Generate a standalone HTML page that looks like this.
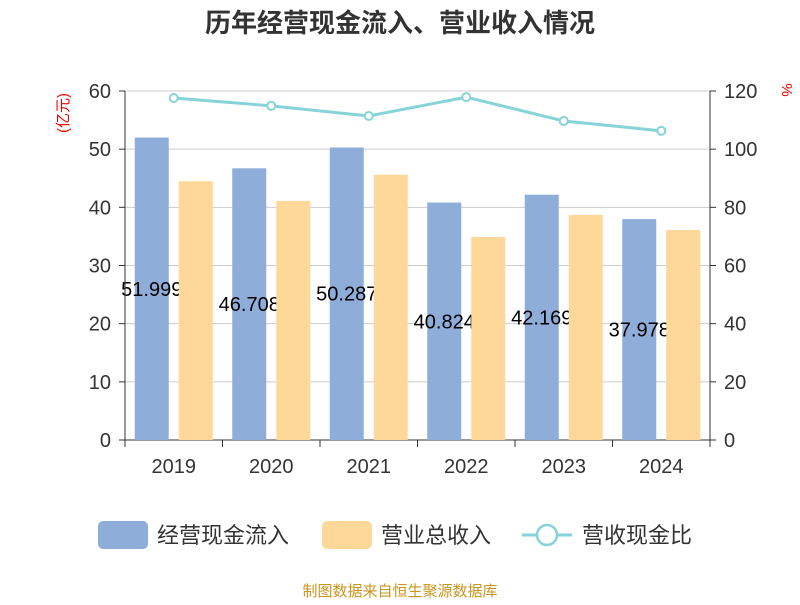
<!DOCTYPE html>
<html><head><meta charset="utf-8"><style>
body{margin:0;background:#fff;font-family:"Liberation Sans","Noto Sans CJK SC",sans-serif}
</style></head><body>
<svg id="c" width="800" height="600" xmlns="http://www.w3.org/2000/svg" font-family="Liberation Sans, Noto Sans CJK SC, sans-serif">
<text x="400" y="32" text-anchor="middle" font-size="26" font-weight="bold" fill="#333">历年经营现金流入、营业收入情况</text>
<text transform="translate(68,113) rotate(-90)" text-anchor="middle" font-size="15" fill="#e00">(亿元)</text>
<text transform="translate(782,90) rotate(90)" text-anchor="middle" font-size="15" fill="#e00">%</text>
<g id="grid"></g><g id="bars"></g><g id="labels"></g><g id="bars2"></g><g id="line"></g><g id="axes"></g>
<g>
<rect x="98" y="521" width="50" height="28" rx="5" fill="#8eadd9"/>
<text x="157" y="543" font-size="22" fill="#333">经营现金流入</text>
<rect x="322" y="521" width="50" height="28" rx="5" fill="#fed899"/>
<text x="381" y="543" font-size="22" fill="#333">营业总收入</text>
<line x1="522" y1="535" x2="572" y2="535" stroke="#86d4d8" stroke-width="3"/>
<circle cx="547" cy="535" r="10" fill="#fff" stroke="#86d4d8" stroke-width="2.5"/>
<text x="582" y="543" font-size="22" fill="#333">营收现金比</text>
</g>
<text x="400" y="596" text-anchor="middle" font-size="15" fill="#c8961e">制图数据来自恒生聚源数据库</text>
</svg>
<script>
const categories=["2019","2020","2021","2022","2023","2024"];
const cashInflow=[51.999,46.708,50.287,40.824,42.169,37.978];
const revenue=[44.5,41.1,45.6,34.9,38.7,36.1];
const ratio=[117.6,114.9,111.4,117.9,109.7,106.3];
const leftTicks=[0,10,20,30,40,50,60];
const rightTicks=[0,20,40,60,80,100,120];
const NS="http://www.w3.org/2000/svg";
const X0=125,X1=710,Y0=440,Y1=91;
const yL=v=>Y0-(v/60)*(Y0-Y1);
const yR=v=>Y0-(v/120)*(Y0-Y1);
const bw=(X1-X0)/categories.length;
const xc=i=>X0+bw*(i+0.5);
function mk(parent,tag,attrs){const e=document.createElementNS(NS,tag);for(const k in attrs)e.setAttribute(k,attrs[k]);document.getElementById(parent).appendChild(e);return e;}
leftTicks.forEach((t,i)=>{
 const g=mk('grid','line',{x1:X0,x2:X1,y1:yL(t),y2:yL(t),stroke:i==0?'#333':'#ccc','stroke-width':1});
 
 
 const a=mk('axes','line',{x1:X0-6,x2:X0,y1:yL(t),y2:yL(t),stroke:'#333'});
 
 
 const l=mk('axes','text',{x:X0-14,y:yL(t)+7,'text-anchor':'end','font-size':20,fill:'#333'});l.textContent=t;
 
 
});
rightTicks.forEach(t=>{
 const a=mk('axes','line',{x1:X1,x2:X1+6,y1:yR(t),y2:yR(t),stroke:'#333'});
 
 
 const l=mk('axes','text',{x:X1+14,y:yR(t)+7,'font-size':20,fill:'#333'});l.textContent=t;
 
 
});
const la=mk('axes','line',{x1:X0,x2:X0,y1:Y1,y2:Y0,stroke:'#333'});


const ra=mk('axes','line',{x1:X1,x2:X1,y1:Y1,y2:Y0,stroke:'#333'});


for(let i=0;i<=categories.length;i++){
 const t=mk('axes','line',{x1:X0+bw*i,x2:X0+bw*i,y1:Y0,y2:Y0+7,stroke:'#333'});
 
 
}
categories.forEach((c,i)=>{
 const l=mk('axes','text',{x:xc(i),y:473,'text-anchor':'middle','font-size':20,fill:'#333'});l.textContent=c;
 
 
 const b=mk('bars','rect',{x:xc(i)-39,y:yL(cashInflow[i]),width:34,height:Y0-yL(cashInflow[i]),fill:'#8eadd9'});
 
 
 const v=mk('labels','text',{x:xc(i)-22,y:(yL(cashInflow[i])+Y0)/2+7,'text-anchor':'middle','font-size':20,fill:'#000'});v.textContent=cashInflow[i].toFixed(3);
 
 
 const o=mk('bars2','rect',{x:xc(i)+5,y:yL(revenue[i]),width:34,height:Y0-yL(revenue[i]),fill:'#fed899'});
 
 
});
const pl=mk('line','polyline',{points:ratio.map((v,i)=>xc(i)+','+yR(v)).join(' '),fill:'none',stroke:'#86d4d8','stroke-width':3});


ratio.forEach((v,i)=>{
 const p=mk('line','circle',{cx:xc(i),cy:yR(v),r:4,fill:'#fff',stroke:'#86d4d8','stroke-width':2});
 
 
});
</script>
</body></html>
